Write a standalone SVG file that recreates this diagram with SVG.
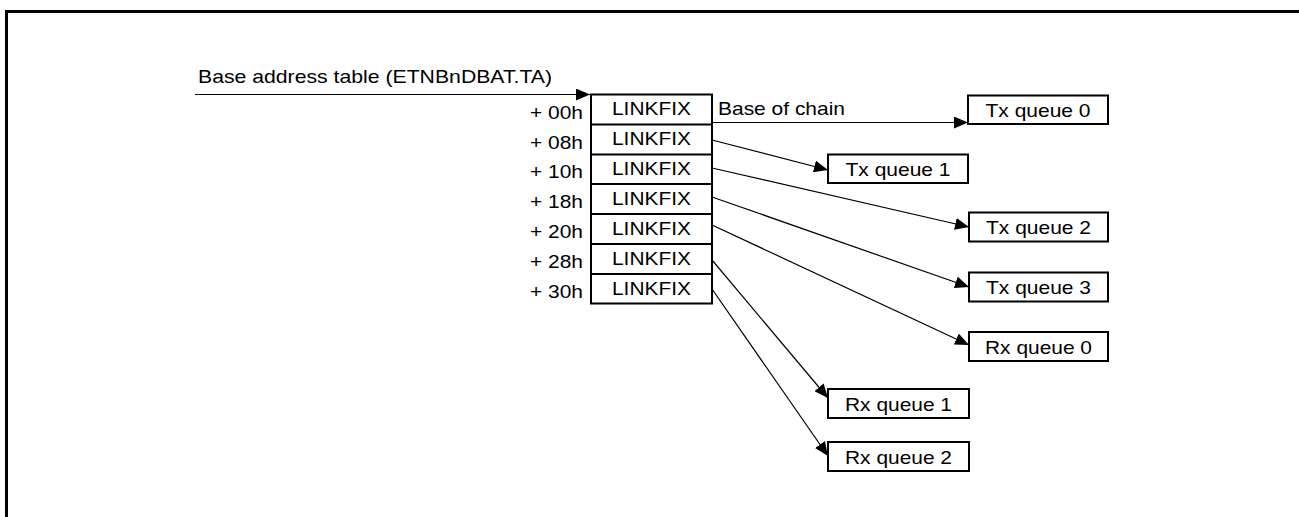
<svg xmlns="http://www.w3.org/2000/svg" width="1299" height="517" viewBox="0 0 1299 517">
<style>
text{font-family:"Liberation Sans",Arial,sans-serif;font-size:19px;fill:#000}
.c{text-anchor:middle}
.r{text-anchor:end}
.box{fill:#fff;stroke:#000;stroke-width:2}
.con{fill:none;stroke:#000;stroke-width:1.2}
</style>
<defs>
<marker id="ah" markerUnits="userSpaceOnUse" markerWidth="16" markerHeight="12" refX="14" refY="6" orient="auto">
<path d="M0,0 L14,6 L0,12 Z" fill="#000"/>
</marker>
</defs>
<rect width="1299" height="517" fill="#fff"/>
<path d="M6.5,517 V11.5 H1299" fill="none" stroke="#000" stroke-width="3"/>
<g id="header">
<text x="198" y="82.5" textLength="354" lengthAdjust="spacingAndGlyphs">Base address table (ETNBnDBAT.TA)</text>
</g>
<g id="table">
<rect class="box" x="591" y="94.5" width="121" height="209"/>
<path d="M591,124.5H712M591,154.5H712M591,184H712M591,214H712M591,244H712M591,274H712" stroke="#000" stroke-width="2"/>
<text class="c" x="651.5" y="115" textLength="79" lengthAdjust="spacingAndGlyphs">LINKFIX</text>
<text class="c" x="651.5" y="145" textLength="79" lengthAdjust="spacingAndGlyphs">LINKFIX</text>
<text class="c" x="651.5" y="175" textLength="79" lengthAdjust="spacingAndGlyphs">LINKFIX</text>
<text class="c" x="651.5" y="205" textLength="79" lengthAdjust="spacingAndGlyphs">LINKFIX</text>
<text class="c" x="651.5" y="235" textLength="79" lengthAdjust="spacingAndGlyphs">LINKFIX</text>
<text class="c" x="651.5" y="265" textLength="79" lengthAdjust="spacingAndGlyphs">LINKFIX</text>
<text class="c" x="651.5" y="295" textLength="79" lengthAdjust="spacingAndGlyphs">LINKFIX</text>
<text class="r" x="583" y="118.5" textLength="53" lengthAdjust="spacingAndGlyphs">+ 00h</text>
<text class="r" x="583" y="148.5" textLength="53" lengthAdjust="spacingAndGlyphs">+ 08h</text>
<text class="r" x="583" y="178" textLength="53" lengthAdjust="spacingAndGlyphs">+ 10h</text>
<text class="r" x="583" y="208" textLength="53" lengthAdjust="spacingAndGlyphs">+ 18h</text>
<text class="r" x="583" y="238" textLength="53" lengthAdjust="spacingAndGlyphs">+ 20h</text>
<text class="r" x="583" y="268" textLength="53" lengthAdjust="spacingAndGlyphs">+ 28h</text>
<text class="r" x="583" y="298" textLength="53" lengthAdjust="spacingAndGlyphs">+ 30h</text>
</g>
<g id="txq0"><rect class="box" x="968" y="95.5" width="140" height="28.5"/><text class="c" x="1038" y="117" textLength="105" lengthAdjust="spacingAndGlyphs">Tx queue 0</text></g>
<g id="txq1"><rect class="box" x="828" y="154.5" width="140" height="28.5"/><text class="c" x="898" y="176" textLength="105" lengthAdjust="spacingAndGlyphs">Tx queue 1</text></g>
<g id="txq2"><rect class="box" x="969" y="212.5" width="139" height="29"/><text class="c" x="1038.5" y="234" textLength="105" lengthAdjust="spacingAndGlyphs">Tx queue 2</text></g>
<g id="txq3"><rect class="box" x="969" y="272.5" width="139" height="29"/><text class="c" x="1038.5" y="294" textLength="105" lengthAdjust="spacingAndGlyphs">Tx queue 3</text></g>
<g id="rxq0"><rect class="box" x="969" y="332" width="139" height="29"/><text class="c" x="1038.5" y="353.5" textLength="107" lengthAdjust="spacingAndGlyphs">Rx queue 0</text></g>
<g id="rxq1"><rect class="box" x="828" y="389" width="141" height="29"/><text class="c" x="898.5" y="410.5" textLength="107" lengthAdjust="spacingAndGlyphs">Rx queue 1</text></g>
<g id="rxq2"><rect class="box" x="828" y="442" width="141" height="29"/><text class="c" x="898.5" y="463.5" textLength="107" lengthAdjust="spacingAndGlyphs">Rx queue 2</text></g>
<g id="connectors">
<line class="con" x1="195" y1="94.5" x2="590" y2="94.5" marker-end="url(#ah)"/>
<text x="718" y="114.5" textLength="127" lengthAdjust="spacingAndGlyphs">Base of chain</text>
<line class="con" x1="712" y1="122.5" x2="968" y2="122.5" marker-end="url(#ah)"/>
<line class="con" x1="712" y1="140" x2="828" y2="170" marker-end="url(#ah)"/>
<line class="con" x1="712" y1="168" x2="969" y2="227" marker-end="url(#ah)"/>
<line class="con" x1="712" y1="197" x2="969" y2="287" marker-end="url(#ah)"/>
<line class="con" x1="712" y1="225" x2="969" y2="345" marker-end="url(#ah)"/>
<line class="con" x1="712" y1="260" x2="828" y2="398" marker-end="url(#ah)"/>
<line class="con" x1="712" y1="289" x2="828" y2="456" marker-end="url(#ah)"/>
</g>
</svg>
